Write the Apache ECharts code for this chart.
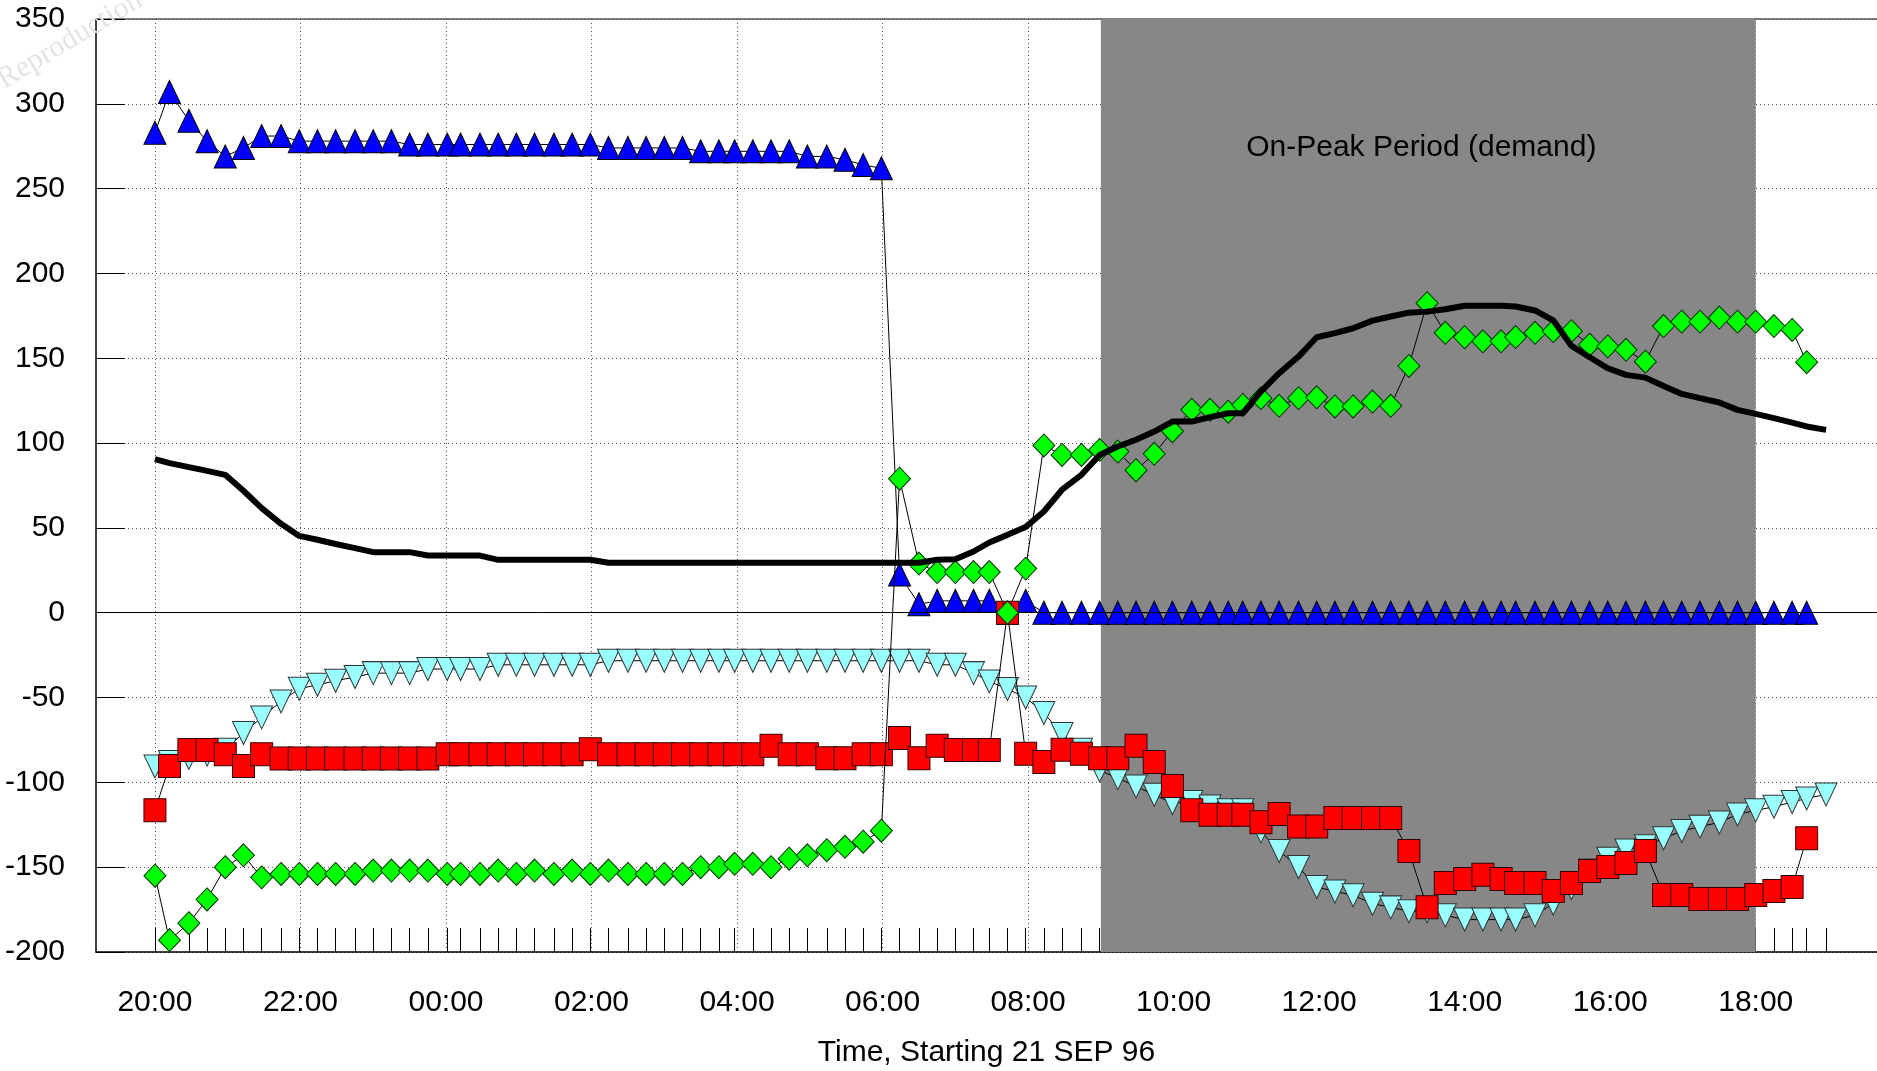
<!DOCTYPE html>
<html><head><meta charset="utf-8">
<script src="https://cdn.jsdelivr.net/npm/echarts@6/dist/echarts.min.js"></script>
<style>html,body{margin:0;padding:0;background:#fff}#c{width:1877px;height:1071px}</style>
</head><body><div id="c"></div>
<script>
// sample times (clock), starting 21 SEP 96 20:00
const times = ["20:00","20:12","20:28","20:43","20:58","21:13","21:28","21:44","21:59","22:14",
"22:29","22:45","23:00","23:15","23:30","23:45","00:01","00:12","00:28","00:43",
"00:58","01:13","01:29","01:44","01:59","02:14","02:30","02:45","03:00","03:15",
"03:30","03:45","03:58","04:13","04:28","04:43","04:58","05:14","05:29","05:44",
"05:59","06:14","06:30","06:45","07:00","07:15","07:28","07:43","07:58","08:13",
"08:28","08:44","08:59","09:14","09:29","09:44","09:59","10:15","10:30","10:45",
"10:57","11:12","11:27","11:43","11:58","12:13","12:28","12:44","12:59","13:14",
"13:29","13:44","14:00","14:15","14:30","14:42","14:58","15:13","15:28","15:43",
"15:58","16:13","16:29","16:44","16:59","17:14","17:30","17:45","18:00","18:15",
"18:30","18:42","18:58"];

const xLabelTimes = ["20:00","22:00","00:00","02:00","04:00","06:00","08:00","10:00","12:00","14:00","16:00","18:00"];
const peakPeriod = ["09:00","18:00"];
const peakLabel = "On-Peak Period (demand)";
const xTitle = "Time, Starting 21 SEP 96";

// blue up-triangles
const blueVals = [283,307,290,278,269,274,281,281,278,278,
278,278,278,278,276,276,276,276,276,276,
276,276,276,276,276,274,274,274,274,274,
272,272,272,272,272,272,269,269,267,264,
262,22.5,5,7,7,7,7,0,7,0,
0,0,0,0,0,0,0,0,0,0,
0,0,0,0,0,0,0,0,0,0,
0,0,0,0,0,0,0,0,0,0,
0,0,0,0,0,0,0,0,0,0,
0,0];

// green diamonds
const greenVals = [-155,-193,-183,-169,-150,-143,-156,-154,-154,-154,
-154,-154,-152,-152,-152,-152,-154,-154,-154,-152,
-154,-152,-154,-152,-154,-152,-154,-154,-154,-154,
-150,-150,-148,-148,-150,-145,-143,-140,-138,-135,
-128.5,79,29,24,24,24,24,0,26,98.6,
93,93,96,95,84,93.7,107,119.6,119.6,118.5,
122.5,126.5,122,126.5,127,121.6,121.6,124.5,122,145.5,
182.5,165,162.4,160,160,162.5,165,166,166,158,
157,155,148,169,171.6,171.6,174,171.6,171.6,169,
166.7,147.7];

// cyan down-triangles
const cyanVals = [-90.6,-88,-85.6,-83.7,-80.8,-70.9,-61.7,-52.3,-44.8,-42.5,
-40.1,-37.9,-35.6,-35.6,-35.6,-33.2,-33.2,-33.2,-33.2,-30.7,
-30.7,-30.7,-30.7,-30.7,-30.7,-28.3,-28.3,-28.3,-28.3,-28.3,
-28.3,-28.3,-28.3,-28.3,-28.3,-28.3,-28.3,-28.3,-28.3,-28.3,
-28.3,-28.3,-28.3,-30.7,-30.7,-35.6,-40.5,-45,-50,-59.1,
-71.5,-80.8,-93,-97.5,-102.4,-107.3,-112.2,-111.6,-114.2,-116.5,
-116.5,-128.9,-140.5,-149.9,-161.7,-164.3,-166.6,-171.5,-173.7,-176,
-176,-178.4,-180.9,-180.9,-180.9,-180.9,-178.4,-171.4,-162.3,-152,
-145,-140.1,-137.7,-133,-128.7,-126.1,-123.6,-118.9,-116.5,-114.4,
-111.6,-109.5,-107.1];

// red squares
const redVals = [-116.4,-90.4,-80.9,-80.9,-83.4,-90.4,-83.4,-85.9,-85.9,-85.9,
-85.9,-85.9,-85.9,-85.9,-85.9,-85.9,-83.4,-83.4,-83.4,-83.4,
-83.4,-83.4,-83.4,-83.4,-80.5,-83.4,-83.4,-83.4,-83.4,-83.4,
-83.4,-83.4,-83.4,-83.4,-78.4,-83.4,-83.4,-85.8,-85.8,-83.4,
-83.4,-73.9,-85.8,-78.4,-80.9,-80.9,-80.9,0,-83.1,-88,
-80.8,-83.1,-85.8,-85.8,-78.4,-88,-102.2,-116.5,-119.1,-119.1,
-119.1,-123.5,-118.6,-126,-126,-121,-121,-121,-121,-140.5,
-173.6,-159.3,-157,-154.4,-157,-159.3,-159.3,-164,-159.3,-152.2,
-149.9,-147.5,-140.5,-166.4,-166.4,-168.7,-168.7,-168.7,-166.4,-164,
-161.7,-133];

// thick black line
const blackVals = [90.5,88.2,85.8,83.6,81.3,71.9,61.7,52.4,45.3,43.0,
40.5,38.1,35.7,35.7,35.7,33.7,33.7,33.7,33.7,31.2,
31.2,31.2,31.2,31.2,31.2,29.5,29.5,29.5,29.5,29.5,
29.5,29.5,29.5,29.5,29.5,29.5,29.5,29.5,29.5,29.5,
29.5,29.5,29.5,31.2,31.5,36.1,41.4,45.9,50.5,59.7,
72.5,81.3,93,98,102,106.8,112.7,112.7,115.3,117.6,
117.6,130.4,141.2,151,162.4,164.8,167.7,172.2,174.6,176.9,
177.5,178.9,181,181,181,180.5,178.2,172.4,157.4,150.6,
144.1,140.2,138.6,133.7,129,126.5,123.9,119.6,117.2,114.7,
112.1,109.8,107.8];

function toMin(t){const p=t.split(':').map(Number);let v=p[0]*60+p[1]-1200;if(v<0)v+=1440;return v;}
const xs = times.map(toMin);
function pairs(vals){return vals.map((v,i)=>[xs[i],v]);}
function fmt(v){const h=(Math.round(v/60)+20)%24;return String(h).padStart(2,'0')+':00';}

const FONT='"Liberation Sans", Arial, sans-serif';
const FS=30;
const xMin=-48.6, xMax=1420;
const gridLine={show:true,lineStyle:{color:'#555',type:[1,3],width:1}};

const chart = echarts.init(document.getElementById('c'), null, {renderer:'canvas'});
const base = {type:'line', xAxisIndex:0, yAxisIndex:0, symbolSize:[22,23], animation:false, silent:true,
  lineStyle:{color:'#000', width:1}};

chart.setOption({
  animation:false,
  backgroundColor:'#fff',
  grid:{left:96, right:0, top:19, bottom:119, containLabel:false, outerBoundsMode:'none'},
  xAxis:[
    {type:'value', position:'bottom', min:xMin, max:xMax,
     axisLine:{onZero:false, show:true, lineStyle:{color:'#000', width:1.5}},
     axisTick:{show:false, customValues:xLabelTimes.map(toMin)},
     axisLabel:{customValues:xLabelTimes.map(toMin), formatter:fmt, color:'#000', fontSize:FS, fontFamily:FONT, margin:36},
     splitLine:gridLine,
     name:xTitle, nameLocation:'middle', nameGap:86,
     nameTextStyle:{color:'#000', fontSize:FS, fontFamily:FONT}},
    {type:'value', position:'bottom', min:xMin, max:xMax,
     axisLine:{onZero:false, show:false},
     axisTick:{show:true, inside:true, length:24, customValues:xs, lineStyle:{color:'#000', width:1}},
     axisLabel:{show:false}, splitLine:{show:false}},
    {type:'value', position:'top', min:xMin, max:xMax,
     axisLine:{onZero:false, show:true, lineStyle:{color:'#555', width:1.5}},
     axisTick:{show:false}, axisLabel:{show:false}, splitLine:{show:false}}
  ],
  yAxis:[{type:'value', min:-200, max:350, interval:50,
    axisLine:{show:true, onZero:false, lineStyle:{color:'#000', width:1.5}},
    axisTick:{show:true, inside:true, length:29, lineStyle:{color:'#000', width:1}},
    axisLabel:{color:'#000', fontSize:FS, fontFamily:FONT, margin:31},
    splitLine:gridLine}],
  graphic:[{type:'text', x:70, y:40, rotation:0.54, z:100, silent:true,
    style:{text:'Reproduction', fill:'#e4e4e4', font:'30px "Liberation Serif", serif', align:'center', verticalAlign:'middle', textAlign:'center', textVerticalAlign:'middle'}}],
  series:[
    {type:'line', name:'peak', z:-1, data:[], silent:true, animation:false,
     markArea:{silent:true, animation:false,
       itemStyle:{color:'#878787', opacity:1},
       label:{show:true, position:'insideTop', distance:114, offset:[-7,0], color:'#000', fontSize:FS, fontFamily:FONT},
       data:[[{name:peakLabel, xAxis:toMin(peakPeriod[0]), yAxis:-200},{xAxis:toMin(peakPeriod[1]), yAxis:350}]]}},
    Object.assign({}, base, {name:'cyan', z:2, symbol:'triangle', symbolRotate:180,
      itemStyle:{color:'#99ffff', borderColor:'#333', borderWidth:1}, data:pairs(cyanVals),
      markLine:{silent:true, animation:false, symbol:'none', label:{show:false},
        lineStyle:{color:'#000', width:1, type:'solid'}, data:[{yAxis:0}]}}),
    Object.assign({}, base, {name:'blue', z:3, symbol:'triangle',
      itemStyle:{color:'#0000ff', borderColor:'#000', borderWidth:1}, data:pairs(blueVals)}),
    Object.assign({}, base, {name:'red', z:4, symbol:'rect',
      itemStyle:{color:'#ff0000', borderColor:'#300', borderWidth:1}, data:pairs(redVals)}),
    Object.assign({}, base, {name:'green', z:5, symbol:'diamond',
      itemStyle:{color:'#00ff00', borderColor:'#030', borderWidth:1}, data:pairs(greenVals)}),
    {type:'line', name:'black', z:6, symbol:'none', animation:false, silent:true,
     lineStyle:{color:'#000', width:6}, data:pairs(blackVals)}
  ]
});
</script></body></html>
